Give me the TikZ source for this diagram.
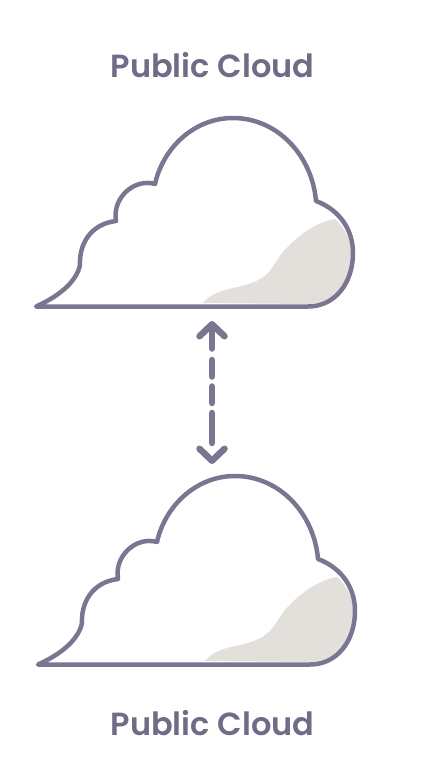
\documentclass[tikz,border=0pt]{standalone}
\usepackage{fontspec}
\usepackage{xcolor}
\usetikzlibrary{arrows.meta}
\newfontfamily\titlefont{Poppins SemiBold}
\definecolor{cloudLine}{RGB}{122,118,146}
\definecolor{titleGrey}{RGB}{110,108,134}
\definecolor{cloudShade}{RGB}{227,223,219}
\tikzset{
    cloudtitle/.style={text=titleGrey, font=\titlefont\fontsize{32}{36}\selectfont},
    cloudpic/.pic={
        \fill[cloudShade] (203,303) .. controls (210,294) and (222,290) .. (238,287) .. controls (250,284) and (258,281) .. (263,277) .. controls (272,271) and (275,262) .. (283,252) .. controls (295,238) and (315,222) .. (335,219) .. controls (345,228) and (351,240) .. (351,253) .. controls (351,283) and (333,304) .. (307,304) -- cycle;
        \draw[line width=4.5pt, cloudLine, line join=round, line cap=round] (36,306.5) .. controls (55,298) and (76,284) .. (80,265) .. controls (79,245) and (90,224) .. (116,221) .. controls (112,198) and (134,178) .. (155,184) .. controls (163,148) and (194,118) .. (233,118) .. controls (277,118) and (312,155) .. (316,201) .. controls (340,210) and (353,230) .. (353,253) .. controls (353,283) and (335,306.5) .. (308,306.5) -- cycle;
    }
}
\begin{document}
\begin{tikzpicture}[x=1pt,y=-1pt]
    \useasboundingbox (0,0) rectangle (421,779);
    \node[cloudtitle] (titletop) at (212.5,65) {Public Cloud};
    \pic at (0,0) {cloudpic};
    \coordinate (arrowtop) at (212,321);
    \coordinate (arrowbottom) at (212,464);
    \draw[{Straight Barb[round,length=12pt,width=25pt]}-{Straight Barb[round,length=12pt,width=25pt]}, line width=6.5pt, cloudLine, line cap=round, dash pattern=on 21pt off 11.5pt on 16.5pt off 10pt on 16.5pt off 10pt on 30pt] (arrowtop) -- (arrowbottom);
    \pic at (2,358) {cloudpic};
    \node[cloudtitle] (titlebottom) at (212.5,723) {Public Cloud};
\end{tikzpicture}
\end{document}
